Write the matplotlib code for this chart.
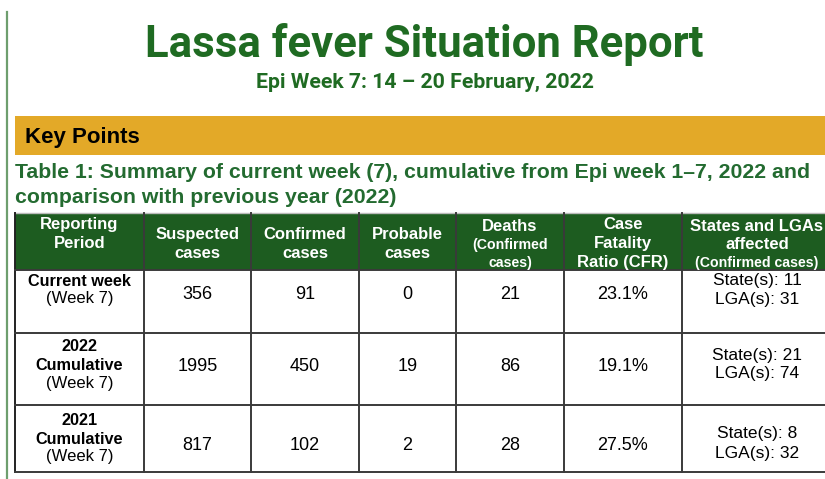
import matplotlib
matplotlib.use("Agg")
import matplotlib.pyplot as plt
from matplotlib.patches import Rectangle

# ---- data ----
title = "Lassa fever Situation Report"
subtitle = "Epi Week 7: 14 \u2013 20 February, 2022"
section = "Key Points"
caption_lines = ["Table 1: Summary of current week (7), cumulative from Epi week 1\u20137, 2022 and",
                 "comparison with previous year (2022)"]

headers = [
    [("Reporting", "b"), ("Period", "b")],
    [("Suspected", "b"), ("cases", "b")],
    [("Confirmed", "b"), ("cases", "b")],
    [("Probable", "b"), ("cases", "b")],
    [("Deaths", "b"), ("(Confirmed", "s"), ("cases)", "s")],
    [("Case", "b"), ("Fatality", "b"), ("Ratio (CFR)", "b")],
    [("States and LGAs", "b"), ("affected", "b"), ("(Confirmed cases)", "s")],
]
periods = [["Current week", "(Week 7)"],
           ["2022", "Cumulative", "(Week 7)"],
           ["2021", "Cumulative", "(Week 7)"]]
suspected = [356, 1995, 817]
confirmed = [91, 450, 102]
probable = [0, 19, 2]
deaths = [21, 86, 28]
cfr = ["23.1%", "19.1%", "27.5%"]
states = [11, 21, 8]
lgas = [31, 74, 32]

# ---- layout ----
W, H = 825, 479
fig = plt.figure(figsize=(W / 100, H / 100), dpi=100)
ax = fig.add_axes([0, 0, 1, 1])
ax.set_xlim(0, W)
ax.set_ylim(H, 0)
ax.axis("off")

GREEN_T = "#1f6b22"
GREEN_C = "#236b30"
HDR = "#1d5c20"
ORANGE = "#e3a928"
LINE = "#3a3a3a"
SANS = ["Liberation Sans", "DejaVu Sans"]
NARROW = ["Roboto", "DejaVu Sans"]

# left rule
ax.plot([7, 7], [12, H], color="#6e9e6e", lw=1.6)

ax.text(424, 57, title, ha="center", va="baseline", fontsize=31.5, fontweight="bold",
        color=GREEN_T, family=NARROW)
ax.text(425, 87.5, subtitle, ha="center", va="baseline", fontsize=15.3, fontweight="bold",
        color=GREEN_T, family=NARROW)

ax.add_patch(Rectangle((15, 116), W - 15, 39, facecolor=ORANGE, edgecolor="none"))
ax.text(25, 143, section, ha="left", va="baseline", fontsize=16, fontweight="bold",
        color="black", family=SANS)

for i, ln in enumerate(caption_lines):
    ax.text(15, 178 + 25 * i, ln, ha="left", va="baseline", fontsize=15.3,
            fontweight="bold", color=GREEN_C, family=SANS)

# table geometry
xs = [15, 144, 251, 359, 456, 564, 682, 832]
ys = [213, 270, 333, 405, 472]
cx = [(xs[i] + xs[i + 1]) / 2 for i in range(len(xs) - 1)]

ax.add_patch(Rectangle((xs[0], ys[0]), xs[-1] - xs[0], ys[1] - ys[0],
                       facecolor=HDR, edgecolor="none"))
ax.plot([xs[0], W], [ys[0] - 0.5, ys[0] - 0.5], color="#bbbbbb", lw=1)
for x in xs[:-1]:
    ax.plot([x, x], [ys[0], ys[-1]], color=LINE if x != xs[0] else "#222222", lw=1.4)
for y in ys[1:]:
    ax.plot([xs[0], W], [y, y], color=LINE, lw=1.4)

# header text
for c, lines in enumerate(headers):
    if len(lines) == 2 and c > 0:
        ypos = [239, 258]
    elif len(lines) == 2:
        ypos = [229, 248]
    elif c == 5:
        ypos = [229, 248, 267]
    else:
        ypos = [231, 248.5, 266.5]
    for (txt, kind), yy in zip(lines, ypos):
        fs = 12 if kind == "b" else 10.2
        ax.text(cx[c], yy, txt, ha="center", va="baseline", fontsize=fs,
                fontweight="bold", color="white", family=SANS)

# body
row_period_y = [[286, 303], [351, 370, 388], [425, 444, 461]]
row_num_y = [299, 371, 450]
row_state_y = [(285, 304), (360, 378), (438, 458)]
for r in range(3):
    for txt, yy in zip(periods[r], row_period_y[r]):
        bold = not txt.startswith("(")
        ax.text(cx[0], yy, txt, ha="center", va="baseline",
                fontsize=11.7 if bold else 12,
                fontweight="bold" if bold else "normal", color="black", family=SANS)
    vals = [suspected[r], confirmed[r], probable[r], deaths[r], cfr[r]]
    for c, v in enumerate(vals):
        ax.text(cx[c + 1], row_num_y[r], str(v), ha="center", va="baseline",
                fontsize=13, color="black", family=SANS)
    ys_, yl_ = row_state_y[r]
    ax.text(cx[6], ys_, f"State(s): {states[r]}", ha="center", va="baseline",
            fontsize=12.5, color="black", family=SANS)
    ax.text(cx[6], yl_, f"LGA(s): {lgas[r]}", ha="center", va="baseline",
            fontsize=12.5, color="black", family=SANS)

fig.savefig("out.png", dpi=100)
